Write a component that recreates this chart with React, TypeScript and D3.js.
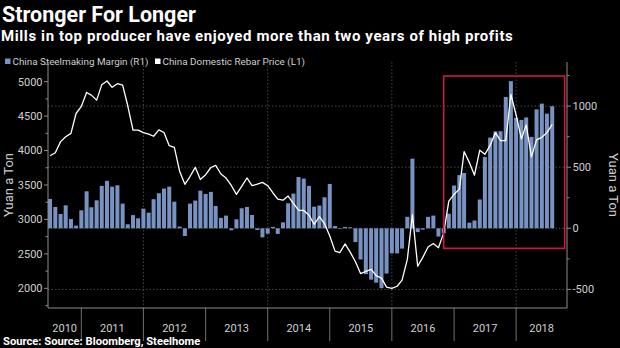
import React from 'react';
import * as d3 from 'd3';

const W = 620;
const H = 348;

const title = 'Stronger For Longer';
const subtitle = 'Mills in top producer have enjoyed more than two years of high profits';
const sourceText = 'Source: Source: Bloomberg, Steelhome';
const legendLabels = ['China Steelmaking Margin (R1)', 'China Domestic Rebar Price (L1)'];
const axisTitle = 'Yuan a Ton';

// monthly observations, first month July 2010
const firstMonth = new Date(2010, 6, 1);

// China steelmaking margin (yuan/ton, right axis)
const marginValues = [
  240, 175, 117, 188, 76, 22, 147, 303, 172, 229, 347, 388,
  341, 352, 202, 33, 108, 82, 161, 128, 238, 287, 325, 341,
  218, 14, -63, 202, 227, 308, 281, 298, 183, 85, 104, -16,
  74, 164, 175, 109, -14, -74, -44, 11, -46, 49, 205, 284,
  420, 407, 347, 177, 186, 254, 363, 19, -5, 11, 8, -113,
  -255, -375, -420, -445, -490, -370, -205, -205, -166, 94, 570, -31,
  -11, 94, 104, -67, -40, 119, 350, 435, 453, 46, 64, 236,
  584, 742, 793, 794, 1075, 1204, 904, 887, 907, 748, 973, 1020,
  938, 999,
];

// China domestic rebar price (yuan/ton, left axis)
const rebarValues = [
  3925, 3969, 4130, 4200, 4250, 4538, 4640, 4843, 4805, 4732, 4954, 5010,
  4918, 4970, 4950, 4650, 4296, 4296, 4260, 4238, 4208, 4300, 4262, 4070,
  4047, 3700, 3510, 3623, 3756, 3580, 3650, 3754, 3785, 3660, 3600, 3493,
  3364, 3480, 3602, 3490, 3512, 3538, 3490, 3384, 3296, 3280, 3340, 3232,
  3135, 3130, 3060, 2930, 3040, 2940, 2760, 2540, 2518, 2645, 2525, 2385,
  2215, 2245, 2276, 2185, 2148, 2017, 2000, 2030, 2118, 2420, 3070, 2320,
  2450, 2600, 2650, 2590, 2805, 3265, 3365, 3440, 3985, 3825, 3642, 4005,
  3945, 4075, 4260, 4145, 4145, 4815, 4513, 4170, 4373, 3908, 4155, 4192,
  4260, 4380,
];

const leftTicks = [2000, 2500, 3000, 3500, 4000, 4500, 5000];
const leftMinor = [1750, 2250, 2750, 3250, 3750, 4250, 4750, 5250];
const rightTicks = [-500, 0, 500, 1000];
const rightMinor = [-250, 250, 750, 1250];
const yearLabels = ['2010', '2011', '2012', '2013', '2014', '2015', '2016', '2017', '2018'];
const gridYears = [2012, 2014, 2016, 2018];

// highlighted period (red box), in data units
const boxStart = new Date(2016, 10, 1);
const boxEnd = new Date(2018, 9, 13);
const boxTop = 1246;
const boxBottom = -164;

const PL = 48;
const PR = 567;
const PT = 62;
const PB = 308;

const months = marginValues.map((_, i) => d3.timeMonth.offset(firstMonth, i));

export default function App() {
  const x = d3.scaleTime()
    .domain([new Date(2010, 5, 19), new Date(2018, 9, 27)])
    .range([PL, PR]);
  const yL = d3.scaleLinear().domain([1714.5, 5285.5]).range([PB, PT]);
  const yR = d3.scaleLinear().domain([-652, 1360.7]).range([PB, PT]);
  const barW = 4;

  const line = d3.line<number>()
    .x((_, i) => x(months[i]))
    .y((d) => yL(d));

  const [d0, d1] = x.domain();
  const yearInfo = yearLabels.map((lab) => {
    const yr = +lab;
    const s = new Date(yr, 0, 1);
    const e = new Date(yr + 1, 0, 1);
    const a = x(s < d0 ? d0 : s);
    const b = x(e > d1 ? d1 : e);
    return { lab, mid: (a + b) / 2, tick: x(s), showTick: s > d0 };
  });

  const font = 'Roboto, "Noto Sans", sans-serif';
  const grid = '#5a5a5a';
  const axisCol = '#8c8c8c';
  const labelCol = '#cfcfcf';
  const barCol = '#7893c2';

  return (
    <svg width={W} height={H} style={{ position: 'absolute', left: 0, top: 0, display: 'block' }}>
      <rect x={0} y={0} width={W} height={H} fill="#000" />
      <text x={2} y={22} fill="#fff" fontFamily={font} fontWeight={700} fontSize={21.5}>{title}</text>
      <text x={1} y={41} fill="#fff" fontFamily={font} fontWeight={700} fontSize={15} letterSpacing={0.6}>{subtitle}</text>

      {/* legend */}
      <rect x={5} y={58.5} width={5.5} height={5.5} fill={barCol} />
      <text x={12.5} y={64.5} fill={labelCol} fontFamily={font} fontSize={9.9}>{legendLabels[0]}</text>
      <rect x={155} y={58.5} width={5.5} height={5.5} fill="#fff" />
      <text x={162.5} y={64.5} fill={labelCol} fontFamily={font} fontSize={9.9}>{legendLabels[1]}</text>

      {/* gridlines */}
      {rightTicks.map((t) => (
        <line key={'gh' + t} x1={PL} x2={PR} y1={yR(t)} y2={yR(t)} stroke={grid} strokeWidth={0.8} strokeDasharray="1.5,2" />
      ))}
      {gridYears.map((yr) => (
        <line key={'gv' + yr} x1={x(new Date(yr, 0, 1))} x2={x(new Date(yr, 0, 1))} y1={PT} y2={PB} stroke={grid} strokeWidth={0.8} strokeDasharray="1.5,2" />
      ))}

      {/* bars */}
      {marginValues.map((v, i) => {
        const cx = x(months[i]);
        const y0 = yR(0);
        const y1 = yR(v);
        return (
          <rect key={'b' + i} x={cx - barW / 2} y={Math.min(y0, y1)} width={barW} height={Math.max(0.6, Math.abs(y1 - y0))} fill={barCol} />
        );
      })}

      {/* line */}
      <path d={line(rebarValues) || ''} fill="none" stroke="#fff" strokeWidth={1.3} strokeLinejoin="round" />

      {/* red box */}
      <rect x={x(boxStart)} y={yR(boxTop)} width={x(boxEnd) - x(boxStart)} height={yR(boxBottom) - yR(boxTop)} fill="none" stroke="#d3173a" strokeWidth={1.6} />

      {/* axes frame */}
      <line x1={PL} x2={PL} y1={PT} y2={PB} stroke={axisCol} strokeWidth={1} />
      <line x1={PR} x2={PR} y1={PT} y2={PB} stroke={axisCol} strokeWidth={1} />
      <line x1={PL} x2={PR} y1={PB} y2={PB} stroke={axisCol} strokeWidth={1.2} />

      {/* left axis */}
      {leftTicks.map((t) => (
        <g key={'lt' + t}>
          <line x1={PL - 4} x2={PL} y1={yL(t)} y2={yL(t)} stroke={axisCol} />
          <text x={PL - 5.5} y={yL(t)} dy="0.35em" textAnchor="end" fill={labelCol} fontFamily={font} fontSize={11}>{t}</text>
        </g>
      ))}
      {leftMinor.map((t) => (
        <line key={'lm' + t} x1={PL - 2.5} x2={PL} y1={yL(t)} y2={yL(t)} stroke={axisCol} />
      ))}
      <text transform={`translate(13,${(PT + PB) / 2}) rotate(-90)`} textAnchor="middle" fill={labelCol} fontFamily={font} fontSize={13}>{axisTitle}</text>

      {/* right axis */}
      {rightTicks.map((t) => (
        <g key={'rt' + t}>
          <line x1={PR} x2={PR + 4} y1={yR(t)} y2={yR(t)} stroke={axisCol} />
          <text x={PR + 5.5} y={yR(t)} dy="0.35em" textAnchor="start" fill={labelCol} fontFamily={font} fontSize={11}>{t < 0 ? '-' + Math.abs(t) : t}</text>
        </g>
      ))}
      {rightMinor.map((t) => (
        <line key={'rm' + t} x1={PR} x2={PR + 2.5} y1={yR(t)} y2={yR(t)} stroke={axisCol} />
      ))}
      <text transform={`translate(608.5,${(PT + PB) / 2}) rotate(90)`} textAnchor="middle" fill={labelCol} fontFamily={font} fontSize={13}>{axisTitle}</text>

      {/* bottom axis */}
      {yearInfo.map((d) => (
        <g key={'y' + d.lab}>
          {d.showTick && <line x1={d.tick} x2={d.tick} y1={PB} y2={PB + 33} stroke={axisCol} strokeWidth={0.8} />}
          <text x={d.mid} y={PB + 24} textAnchor="middle" fill={labelCol} fontFamily={font} fontSize={11}>{d.lab}</text>
        </g>
      ))}

      <text x={3} y={345} fill="#fff" fontFamily={font} fontWeight={700} fontSize={11.2}>{sourceText}</text>
    </svg>
  );
}
